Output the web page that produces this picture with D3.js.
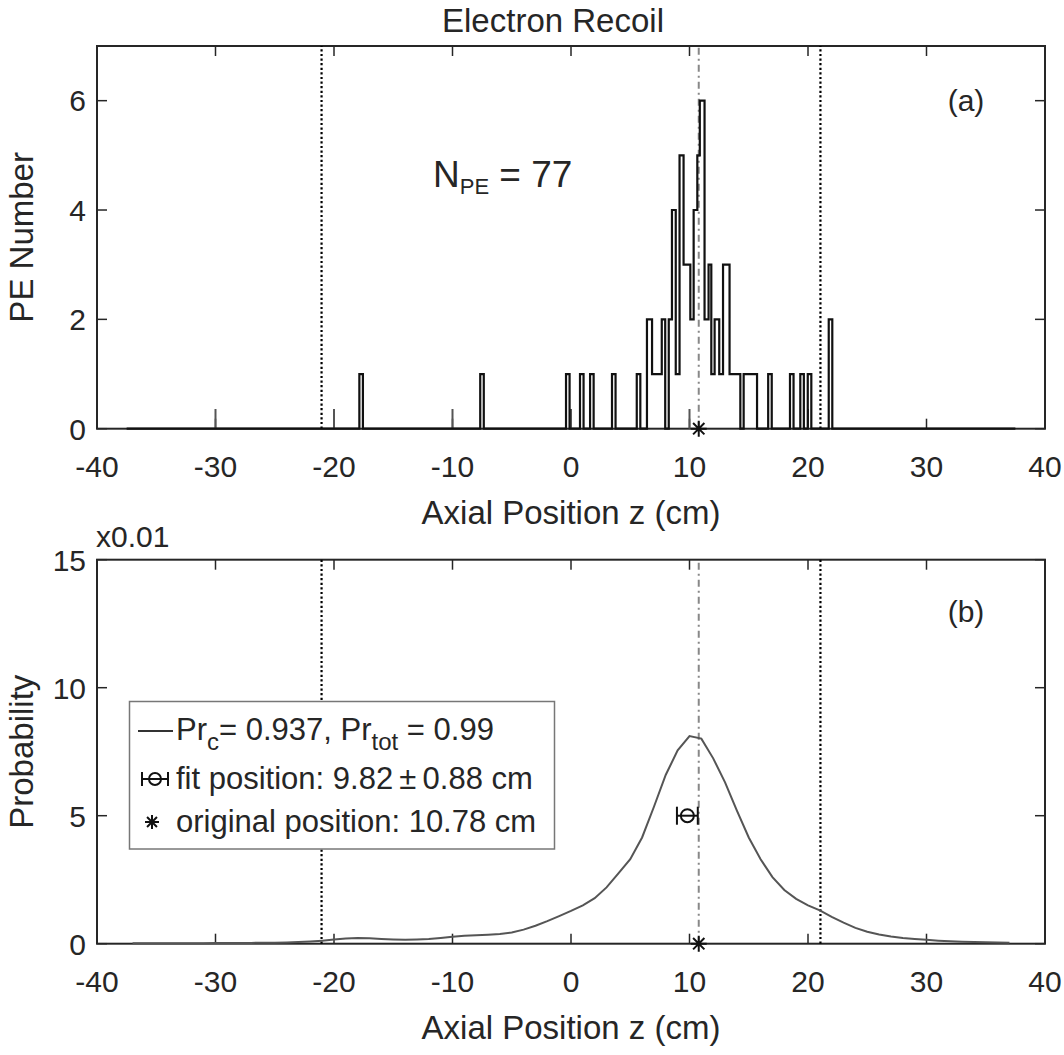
<!DOCTYPE html>
<html>
<head>
<meta charset="utf-8">
<script src="https://cdn.jsdelivr.net/npm/d3@7"></script>
<style>
  body { margin: 0; background: #fff; }
  text { font-family: "Liberation Sans", Arial, sans-serif; fill: #262626; }
</style>
</head>
<body>
<div id="chart"></div>
<script>
// ---- data ----
const zTicks = [-40, -30, -20, -10, 0, 10, 20, 30, 40];
const peTicks = [0, 2, 4, 6];
const probTicks = [0, 5, 10, 15];
const detEdges = [-21.05, 21.05];      // dotted lines
const zOrig = 10.78;                   // original position
const zFit = 9.82, zFitErr = 0.88, fitProb = 5;

// PE histogram as stairs: at stepZ[i] the count becomes stepN[i]
const stepZ = [-37.5, -17.86, -17.56, -7.66, -7.36, -0.42, -0.12, 0.76, 1.06, 1.61, 1.91,
  3.46, 3.76, 5.55, 5.85, 6.41, 6.84, 7.66, 7.95, 8.25, 8.52, 8.84, 9.16, 9.50, 10.07,
  10.35, 10.66, 10.87, 11.27, 11.61, 11.84, 12.12, 12.51, 12.83, 13.38, 14.29, 14.57,
  15.70, 16.64, 16.94, 18.48, 18.78, 19.35, 19.65, 19.98, 20.28, 21.75, 22.05, 37.5];
const stepN = [0, 1, 0, 1, 0, 1, 0, 1, 0, 1, 0,
  1, 0, 1, 0, 2, 1, 2, 0, 2, 4, 1, 5, 3, 2,
  4, 5, 6, 2, 3, 1, 2, 1, 3, 1, 0, 1,
  0, 1, 0, 1, 0, 1, 0, 1, 0, 2, 0, 0];
// small grey spikes near the baseline
const spikeZ = [-30, -20, -10, 0, 10, 20];
const spikeH = 0.36;

// probability curve (units of 0.01)
const probZ = [-37, -36, -35, -34, -33, -32, -31, -30, -29, -28, -27, -26, -25, -24, -23, -22,
  -21, -20, -19, -18, -17, -16, -15, -14, -13, -12, -11, -10, -9, -8, -7, -6, -5, -4, -3, -2,
  -1, 0, 1, 2, 3, 4, 5, 6, 7, 8, 9, 10, 11, 12, 13, 14, 15, 16, 17, 18, 19, 20, 21, 22, 23,
  24, 25, 26, 27, 28, 29, 30, 31, 32, 33, 34, 35, 36, 37];
const probV = [0.02, 0.02, 0.02, 0.02, 0.02, 0.02, 0.02, 0.03, 0.03, 0.03, 0.03, 0.04, 0.04, 0.05, 0.07, 0.09,
  0.12, 0.16, 0.2, 0.22, 0.21, 0.18, 0.16, 0.15, 0.16, 0.18, 0.22, 0.27, 0.31, 0.33, 0.35, 0.38, 0.44, 0.55, 0.7, 0.88,
  1.08, 1.28, 1.5, 1.78, 2.2, 2.75, 3.3, 4.15, 5.35, 6.6, 7.55, 8.11, 8.01, 7.24, 6.3, 5.2, 4.15, 3.3, 2.6, 2.1, 1.75,
  1.5, 1.3, 1.05, 0.82, 0.62, 0.47, 0.36, 0.28, 0.22, 0.18, 0.15, 0.12, 0.1, 0.08, 0.07, 0.06, 0.05, 0.04];

// ---- layout ----
const W = 1064, H = 1055;
const left = 97, right = 1045;
const axisColor = "#262626";
const tickFont = "30px", labelFont = "33px";

const svg = d3.select("#chart").append("svg")
    .attr("width", W).attr("height", H);

const x = d3.scaleLinear().domain([-40, 40]).range([left, right]);

// draws a boxed axes with inward ticks on all four sides, returns y scale
function drawAxes(top, bottom, ymax, yticks) {
    const y = d3.scaleLinear().domain([0, ymax]).range([bottom, top]);
    const g = svg.append("g");
    const tl = 10;
    zTicks.forEach(t => {
        g.append("line").attr("x1", x(t)).attr("x2", x(t)).attr("y1", bottom).attr("y2", bottom - tl)
            .attr("stroke", axisColor).attr("stroke-width", 1.5);
        g.append("line").attr("x1", x(t)).attr("x2", x(t)).attr("y1", top).attr("y2", top + tl)
            .attr("stroke", axisColor).attr("stroke-width", 1.5);
        g.append("text").attr("x", x(t)).attr("y", bottom + 48)
            .attr("text-anchor", "middle").style("font-size", tickFont).text(t);
    });
    yticks.forEach(t => {
        g.append("line").attr("x1", left).attr("x2", left + tl).attr("y1", y(t)).attr("y2", y(t))
            .attr("stroke", axisColor).attr("stroke-width", 1.5);
        g.append("line").attr("x1", right).attr("x2", right - tl).attr("y1", y(t)).attr("y2", y(t))
            .attr("stroke", axisColor).attr("stroke-width", 1.5);
        g.append("text").attr("x", left - 11).attr("y", y(t)).attr("dy", "0.36em")
            .attr("text-anchor", "end").style("font-size", tickFont).text(t);
    });
    g.append("rect").attr("x", left).attr("y", top)
        .attr("width", right - left).attr("height", bottom - top)
        .attr("fill", "none").attr("stroke", axisColor).attr("stroke-width", 2);
    g.append("text").attr("x", (left + right) / 2).attr("y", bottom + 95)
        .attr("text-anchor", "middle").style("font-size", labelFont).text("Axial Position z (cm)");
    return y;
}

function refLines(y) {
    detEdges.forEach(d => {
        svg.append("line").attr("x1", x(d)).attr("x2", x(d))
            .attr("y1", y.range()[0]).attr("y2", y.range()[1])
            .attr("stroke", "#000").attr("stroke-width", 2.2).attr("stroke-dasharray", "2.2,2.4");
    });
    svg.append("line").attr("x1", x(zOrig)).attr("x2", x(zOrig))
        .attr("y1", y.range()[0]).attr("y2", y.range()[1])
        .attr("stroke", "#888").attr("stroke-width", 2).attr("stroke-dasharray", "7,4,2,4");
}

function star(cx, cy, r) {
    const p = d3.path();
    [0, 45, 90, 135].forEach(a => {
        const rad = a * Math.PI / 180;
        p.moveTo(cx - r * Math.cos(rad), cy - r * Math.sin(rad));
        p.lineTo(cx + r * Math.cos(rad), cy + r * Math.sin(rad));
    });
    return p.toString();
}

// ---- panel (a) ----
const yA = drawAxes(46, 428.7, 7, peTicks);

svg.append("text").attr("x", 553).attr("y", 32)
    .attr("text-anchor", "middle").style("font-size", labelFont).text("Electron Recoil");

svg.append("text").attr("transform", "translate(" + 33 + "," + yA(3.5) + ") rotate(-90)")
    .attr("text-anchor", "middle").style("font-size", labelFont).text("PE Number");

refLines(yA);

spikeZ.forEach(s => {
    svg.append("line").attr("x1", x(s)).attr("x2", x(s))
        .attr("y1", yA(0)).attr("y2", yA(spikeH))
        .attr("stroke", "#555").attr("stroke-width", 2);
});

const steps = stepZ.map((z, i) => [z, stepN[i]]);
svg.append("path").datum(steps)
    .attr("fill", "none").attr("stroke", "#111").attr("stroke-width", 2.2)
    .attr("d", d3.line().x(d => x(d[0])).y(d => yA(d[1])).curve(d3.curveStepAfter));

svg.append("path").attr("d", star(x(zOrig), yA(0), 8))
    .attr("stroke", "#111").attr("stroke-width", 2);

svg.append("text").attr("x", 966).attr("y", yA(6)).attr("dy", "0.36em")
    .attr("text-anchor", "middle").style("font-size", tickFont).text("(a)");

const npe = svg.append("text").attr("x", 433).attr("y", 187).style("font-size", "37px");
npe.append("tspan").text("N");
npe.append("tspan").attr("dy", 7).style("font-size", "22px").text("PE");
npe.append("tspan").attr("dy", -7).text(" = 77");

// ---- panel (b) ----
const yB = drawAxes(559.7, 943.7, 15, probTicks);

svg.append("text").attr("x", 96).attr("y", 547).style("font-size", tickFont).text("x0.01");
svg.append("text").attr("transform", "translate(" + 33 + "," + yB(7.5) + ") rotate(-90)")
    .attr("text-anchor", "middle").style("font-size", labelFont).text("Probability");

refLines(yB);

svg.append("path").datum(probZ.map((z, i) => [z, probV[i]]))
    .attr("fill", "none").attr("stroke", "#555").attr("stroke-width", 2)
    .attr("d", d3.line().x(d => x(d[0])).y(d => yB(d[1])));

// fit marker with horizontal error bar
const fy = yB(fitProb);
svg.append("line").attr("x1", x(zFit - zFitErr)).attr("x2", x(zFit + zFitErr))
    .attr("y1", fy).attr("y2", fy).attr("stroke", "#111").attr("stroke-width", 2);
[zFit - zFitErr, zFit + zFitErr].forEach(e => {
    svg.append("line").attr("x1", x(e)).attr("x2", x(e)).attr("y1", fy - 9).attr("y2", fy + 9)
        .attr("stroke", "#111").attr("stroke-width", 2);
});
svg.append("circle").attr("cx", x(zFit)).attr("cy", fy).attr("r", 6.5)
    .attr("fill", "none").attr("stroke", "#111").attr("stroke-width", 2);

svg.append("path").attr("d", star(x(zOrig), yB(0), 8))
    .attr("stroke", "#111").attr("stroke-width", 2);

svg.append("text").attr("x", 966).attr("y", yB(13)).attr("dy", "0.36em")
    .attr("text-anchor", "middle").style("font-size", tickFont).text("(b)");

// legend
const lg = svg.append("g");
const legFont = "31px", subFont = "24px";
lg.append("rect").attr("x", 129.5).attr("y", 701.5).attr("width", 425).attr("height", 147.5)
    .attr("fill", "#fff").attr("stroke", "#777").attr("stroke-width", 1.5);
lg.append("line").attr("x1", 138).attr("x2", 173).attr("y1", 731).attr("y2", 731)
    .attr("stroke", "#333").attr("stroke-width", 2);
const t1 = lg.append("text").attr("x", 176).attr("y", 740).style("font-size", legFont);
t1.append("tspan").text("Pr");
t1.append("tspan").attr("dy", 10).style("font-size", subFont).text("c");
t1.append("tspan").attr("dy", -10).text("= 0.937, Pr");
t1.append("tspan").attr("dy", 10).style("font-size", subFont).text("tot");
t1.append("tspan").attr("dy", -10).text(" = 0.99");

const ly2 = 779;
lg.append("line").attr("x1", 142).attr("x2", 168).attr("y1", ly2).attr("y2", ly2)
    .attr("stroke", "#111").attr("stroke-width", 2);
[142, 168].forEach(px => lg.append("line").attr("x1", px).attr("x2", px)
    .attr("y1", ly2 - 7).attr("y2", ly2 + 7).attr("stroke", "#111").attr("stroke-width", 2));
lg.append("circle").attr("cx", 155).attr("cy", ly2).attr("r", 6)
    .attr("fill", "none").attr("stroke", "#111").attr("stroke-width", 2);
lg.append("text").attr("x", 176).attr("y", 789).style("font-size", legFont)
    .text("fit position: 9.82\u2009\u00B1\u20090.88 cm");

lg.append("path").attr("d", star(152, 822, 7)).attr("stroke", "#111").attr("stroke-width", 2);
lg.append("text").attr("x", 176).attr("y", 832).style("font-size", legFont)
    .text("original position: 10.78 cm");
</script>
</body>
</html>
